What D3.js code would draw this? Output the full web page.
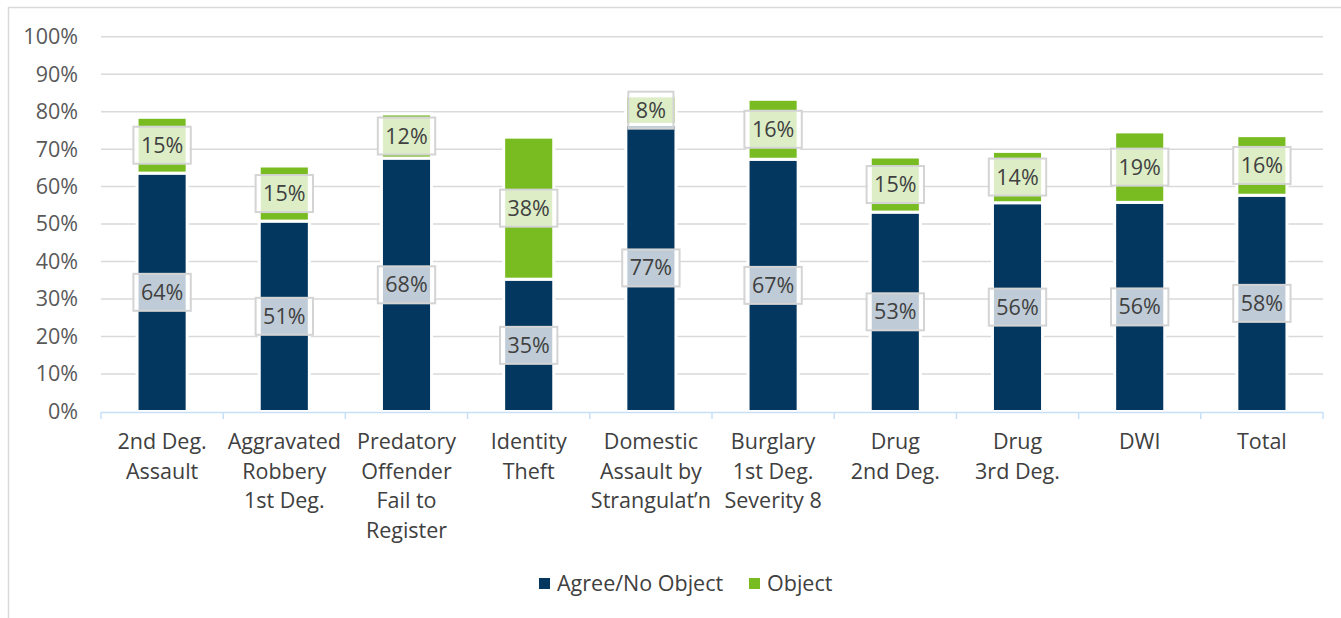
<!DOCTYPE html>
<html>
<head>
<meta charset="utf-8">
<script src="https://cdn.jsdelivr.net/npm/d3@7"></script>
<style>
body { margin: 0; background: #fff; }
text { font-family: "Open Sans", sans-serif; }
</style>
</head>
<body>
<div class="main"></div>
<script>
var categories = [
    '2nd Deg.\nAssault',
    'Aggravated\nRobbery\n1st Deg.',
    'Predatory\nOffender\nFail to\nRegister',
    'Identity\nTheft',
    'Domestic\nAssault by\nStrangulat\u2019n',
    'Burglary\n1st Deg.\nSeverity 8',
    'Drug\n2nd Deg.',
    'Drug\n3rd Deg.',
    'DWI',
    'Total'
];
var agree = [0.636, 0.508, 0.676, 0.353, 0.766, 0.673, 0.532, 0.557, 0.558, 0.577];
var object = [0.149, 0.147, 0.118, 0.379, 0.076, 0.160, 0.147, 0.137, 0.188, 0.159];
var seriesNames = ['Agree/No Object', 'Object'];
var yTicks = [0, 0.1, 0.2, 0.3, 0.4, 0.5, 0.6, 0.7, 0.8, 0.9, 1];

var options = {
    width: 1341,
    height: 618
};
var colors = ['#03375f', '#79bc21'];
var fontSize = '21.5px';

var svg = d3.select('.main')
    .append('svg')
    .attr('width', options.width)
    .attr('height', options.height);

// outer chart border
svg.append('rect')
    .attr('x', 8.5)
    .attr('y', 7.5)
    .attr('width', 1400)
    .attr('height', 700)
    .style('fill', 'none')
    .style('stroke', '#d9d9d9')
    .style('stroke-width', '1.5px');

var x = d3.scaleBand().domain(categories).range([101, 1323]).padding(0);
var y = d3.scaleLinear().domain([0, 1]).range([411.5, 36.7]);
var barW = x.step() * 0.41;

// gridlines
svg.append('g')
    .selectAll('line')
    .data(yTicks.slice(1))
    .enter()
    .append('line')
    .attr('x1', x.range()[0])
    .attr('x2', x.range()[1])
    .attr('y1', function (d) { return y(d); })
    .attr('y2', function (d) { return y(d); })
    .style('stroke', '#d9d9d9')
    .style('stroke-width', '1.5px');

// y axis labels
var yAxis = svg.append('g')
    .attr('transform', 'translate(' + [80, 0] + ')')
    .call(d3.axisLeft(y).tickValues(yTicks).tickFormat(d3.format('.0%')).tickSize(0).tickPadding(2));
yAxis.select('.domain').remove();
yAxis.selectAll('text')
    .style('font-family', '"Open Sans", sans-serif')
    .style('font-size', fontSize)
    .style('fill', '#595959');

// stacked data
var rows = categories.map(function (c, i) {
    return [
        { cat: c, s: 0, y0: 0, y1: agree[i], v: agree[i] },
        { cat: c, s: 1, y0: agree[i], y1: agree[i] + object[i], v: object[i] }
    ];
});
var segs = [].concat.apply([], rows);

svg.append('g')
    .selectAll('rect')
    .data(segs)
    .enter()
    .append('rect')
    .attr('x', function (d) { return x(d.cat) + (x.step() - barW) / 2; })
    .attr('width', barW)
    .attr('y', function (d) { return y(d.y1); })
    .attr('height', function (d) { return y(d.y0) - y(d.y1); })
    .style('fill', function (d) { return colors[d.s]; })
    .style('stroke', '#fff')
    .style('stroke-width', '3px');

// x axis line and ticks
var axisG = svg.append('g');
axisG.append('line')
    .attr('x1', x.range()[0])
    .attr('x2', x.range()[1])
    .attr('y1', 412.5)
    .attr('y2', 412.5)
    .style('stroke', '#c6e0f7')
    .style('stroke-width', '1.5px');
axisG.selectAll('.tick')
    .data(categories.map(function (c) { return x(c); }).concat([x.range()[1]]))
    .enter()
    .append('line')
    .attr('class', 'tick')
    .attr('x1', function (d) { return d; })
    .attr('x2', function (d) { return d; })
    .attr('y1', 412)
    .attr('y2', 419)
    .style('stroke', '#c6e0f7')
    .style('stroke-width', '1.5px');

// category labels
var catG = svg.append('g')
    .selectAll('text')
    .data(categories)
    .enter()
    .append('text')
    .attr('text-anchor', 'middle')
    .style('font-size', fontSize)
    .style('fill', '#404040');
catG.each(function (c) {
    var t = d3.select(this);
    c.split('\n').forEach(function (line, k) {
        t.append('tspan')
            .attr('x', x(c) + x.step() / 2)
            .attr('y', 449 + k * 29.5)
            .text(line);
    });
});

// data labels
var lab = svg.append('g')
    .selectAll('.lab')
    .data(segs)
    .enter()
    .append('g')
    .attr('class', 'lab')
    .attr('transform', function (d) {
        return 'translate(' + [x(d.cat) + x.step() / 2, y((d.y0 + d.y1) / 2)] + ')';
    });
lab.append('rect')
    .style('fill', '#fff')
    .style('fill-opacity', 0.75)
    .style('stroke', '#d4d4d4')
    .style('stroke-width', '2px');
lab.append('text')
    .attr('text-anchor', 'middle')
    .attr('dy', '0.35em')
    .style('font-size', fontSize)
    .style('fill', '#404040')
    .text(function (d) { return d3.format('.0%')(d.v); });
lab.each(function () {
    var g = d3.select(this);
    var w = g.select('text').node().getComputedTextLength() + 15;
    g.select('rect')
        .attr('x', -w / 2)
        .attr('y', -18.5)
        .attr('width', w)
        .attr('height', 37);
});

// legend
var legend = svg.append('g')
    .selectAll('.leg')
    .data(seriesNames)
    .enter()
    .append('g')
    .attr('class', 'leg')
    .attr('transform', function (d, i) {
        return 'translate(' + [i === 0 ? 539 : 749, 583] + ')';
    });
legend.append('rect')
    .attr('x', 0)
    .attr('y', -5)
    .attr('width', 11)
    .attr('height', 11)
    .style('fill', function (d, i) { return colors[i]; });
legend.append('text')
    .attr('x', 18)
    .attr('dy', '0.35em')
    .style('font-size', fontSize)
    .style('fill', '#404040')
    .text(function (d) { return d; });
</script>
</body>
</html>
